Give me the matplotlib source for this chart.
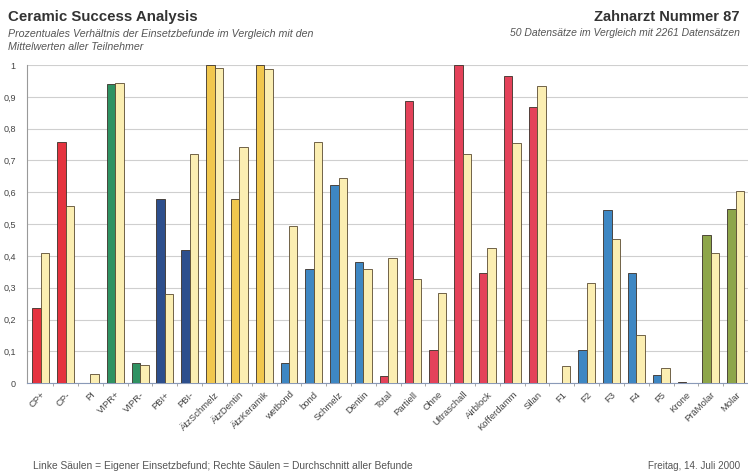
import numpy as np
import matplotlib.pyplot as plt
from matplotlib.ticker import MultipleLocator, FuncFormatter

plt.rcParams['font.family'] = ['Liberation Sans', 'DejaVu Sans']

# categories and values (share of findings, 0..1)
categories = ['CP+', 'CP-', 'PI', 'VIPR+', 'VIPR-', 'PBI+', 'PBI-',
              'ÄtzSchmelz', 'ÄtzDentin', 'ÄtzKeramik', 'wetbond', 'bond',
              'Schmelz', 'Dentin', 'Total', 'Partiell', 'Ohne', 'Ultraschall',
              'Airblock', 'Kofferdamm', 'Silan', 'F1', 'F2', 'F3', 'F4', 'F5',
              'Krone', 'PräMolar', 'Molar']
own = [0.235, 0.757, 0.0, 0.94, 0.063, 0.58, 0.42,
       1.0, 0.58, 1.0, 0.063, 0.36,
       0.623, 0.38, 0.022, 0.887, 0.104, 1.0,
       0.345, 0.966, 0.867, 0.0, 0.105, 0.545, 0.345, 0.025,
       0.005, 0.465, 0.546]
avg = [0.41, 0.557, 0.028, 0.944, 0.058, 0.28, 0.719,
       0.99, 0.742, 0.987, 0.494, 0.757,
       0.644, 0.36, 0.394, 0.327, 0.284, 0.72,
       0.425, 0.754, 0.934, 0.055, 0.314, 0.454, 0.151, 0.046,
       0.0, 0.41, 0.605]

# colour group of each category
red = '#e5333f'
pink = '#e4425a'
green = '#2f9262'
navy = '#2d4f8d'
yellow = '#f1c74e'
blue = '#3e87c3'
olive = '#8ea64a'
dark = '#3a3a3a'
own_colors = [red, red, red, green, green, navy, navy,
              yellow, yellow, yellow, blue, blue, blue, blue, pink,
              pink, pink, pink, pink, pink, pink,
              blue, blue, blue, blue, blue, dark, olive, olive]
avg_color = '#fbeeb2'

fig = plt.figure(figsize=(7.48, 4.73), dpi=100)
ax = fig.add_axes([0.036, 0.19, 0.964, 0.6725])

x = np.arange(len(categories))
w = 0.34
ax.bar(x - w / 2, own, width=w, color=own_colors, edgecolor='#3a3028',
       linewidth=0.6, zorder=3)
ax.bar(x + w / 2, avg, width=w, color=avg_color, edgecolor='#5a4a30',
       linewidth=0.6, zorder=3)

ax.set_xlim(-0.56, 28.4)
ax.set_ylim(0, 1)
ax.yaxis.set_major_locator(MultipleLocator(0.1))
ax.yaxis.set_major_formatter(FuncFormatter(
    lambda v, p: '0' if v < 1e-9 else ('1' if v > 0.999 else ('%.1f' % v).replace('.', ','))))
ax.grid(axis='y', color='#cfcfcf', linewidth=0.8, zorder=0)

ax.set_xticks(x)
ax.set_xticklabels(categories, rotation=45, ha='right', va='top',
                   rotation_mode='anchor', fontsize=6.8, color='#444444')
ax.tick_params(axis='x', length=0, pad=5)
ax.set_xticks(x + 0.5, minor=True)
ax.tick_params(axis='x', which='minor', length=2, color='#999999')
ax.tick_params(axis='y', length=0, labelsize=6.5, labelcolor='#444444', pad=8)

for s in ['top', 'right']:
    ax.spines[s].set_visible(False)
ax.spines['left'].set_color('#999999')
ax.spines['bottom'].set_color('#8a9ab8')
ax.spines['left'].set_linewidth(0.8)
ax.spines['bottom'].set_linewidth(0.8)

# header and footer texts
fig.text(8 / 748, 1 - 17 / 473, 'Ceramic Success Analysis', fontsize=10.8,
         fontweight='bold', color='#333333', va='center', ha='left')
fig.text(8 / 748, 1 - 34 / 473,
         'Prozentuales Verhältnis der Einsetzbefunde im Vergleich mit den',
         fontsize=7.7, style='italic', color='#555555', va='center', ha='left')
fig.text(8 / 748, 1 - 47 / 473, 'Mittelwerten aller Teilnehmer',
         fontsize=7.7, style='italic', color='#555555', va='center', ha='left')
fig.text(740 / 748, 1 - 17 / 473, 'Zahnarzt Nummer 87', fontsize=10.6,
         fontweight='bold', color='#333333', va='center', ha='right')
fig.text(740 / 748, 1 - 33 / 473,
         '50 Datensätze im Vergleich mit 2261 Datensätzen',
         fontsize=7.5, style='italic', color='#555555', va='center', ha='right')
fig.text(33 / 748, 1 - 466 / 473,
         'Linke Säulen = Eigener Einsetzbefund; Rechte Säulen = Durchschnitt aller Befunde',
         fontsize=7.4, color='#555555', va='center', ha='left')
fig.text(740 / 748, 1 - 466 / 473, 'Freitag, 14. Juli 2000', fontsize=7.1,
         color='#555555', va='center', ha='right')

fig.savefig('out.png', dpi=100)
